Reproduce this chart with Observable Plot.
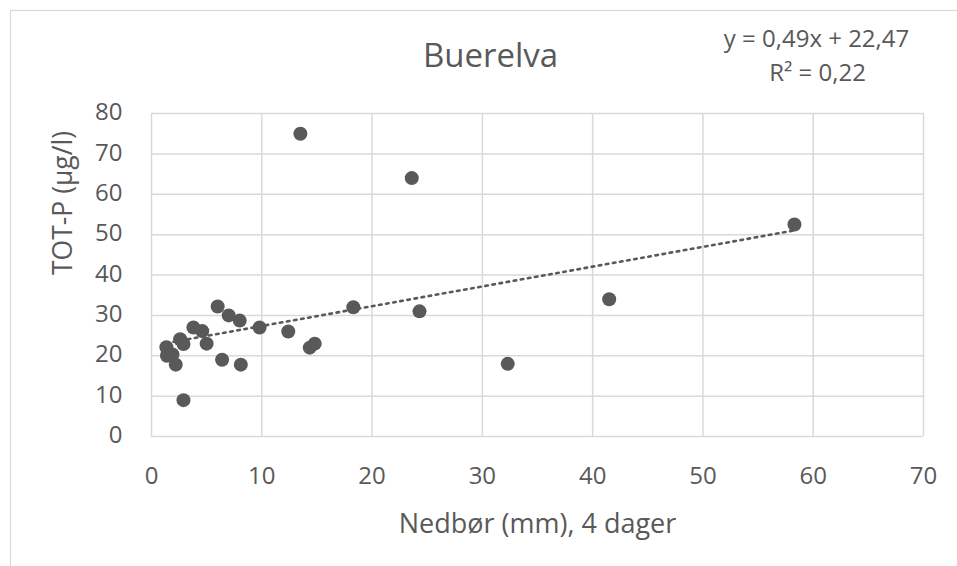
<!DOCTYPE html>
<html><head><meta charset="utf-8">
<script src="https://cdn.jsdelivr.net/npm/d3@7"></script>
<script src="https://cdn.jsdelivr.net/npm/@observablehq/plot@0.6"></script>
<style>body{margin:0;background:#fff;} svg{display:block;}</style>
</head><body><div id="chart"></div>
<script>
const title = "Buerelva";
const xLabel = "Nedbør (mm), 4 dager";
const yLabel = "TOT-P (µg/l)";
const eqLine1 = "y = 0,49x + 22,47";
const eqLine2 = "R² = 0,22";
const slope = 0.49;
const intercept = 22.47;
const xTicks = [0, 10, 20, 30, 40, 50, 60, 70];
const yTicks = [0, 10, 20, 30, 40, 50, 60, 70, 80];
const precip = [13.5, 23.6, 58.3, 41.5, 24.3, 18.3, 32.3, 14.35, 14.8, 12.4, 9.8, 8.0, 7.0, 6.0, 3.8, 4.6, 5.0, 2.6, 2.9, 1.35, 1.4, 1.9, 2.2, 6.4, 8.1, 2.9];
const totP   = [75, 64, 52.5, 34, 31, 32, 18, 22, 23, 26, 27, 28.7, 30, 32.2, 27, 26.1, 23, 24.1, 22.9, 22.1, 20, 20.3, 17.8, 19, 17.8, 9];

const data = precip.map((x, i) => ({x, y: totP[i]}));
const xMin = d3.min(precip), xMax = d3.max(precip);
const trend = [xMin, xMax].map(x => ({x, y: slope * x + intercept}));

const font = "'Open Sans', sans-serif";
const grey = "#595959";

const chart = Plot.plot({
  width: 957, height: 566,
  marginLeft: 151, marginRight: 34, marginTop: 113, marginBottom: 130,
  style: {fontFamily: font, fontSize: "24px", color: grey, background: "#fff"},
  x: {domain: [0, 70], ticks: xTicks, label: null},
  y: {domain: [0, 80], ticks: yTicks, label: null},
  marks: [
    Plot.gridX(xTicks, {stroke: "#d9d9d9", strokeOpacity: 1, strokeWidth: 1.5}),
    Plot.gridY(yTicks, {stroke: "#d9d9d9", strokeOpacity: 1, strokeWidth: 1.5}),
    Plot.axisX({ticks: xTicks, tickSize: 0, tickPadding: 30, fontSize: 24, fill: grey}),
    Plot.axisY({ticks: yTicks, tickSize: 0, tickPadding: 29, fontSize: 24, fill: grey, dy: -1}),
    Plot.line(trend, {x: "x", y: "y", stroke: grey, strokeWidth: 2.6, strokeDasharray: "2.6,4.6"}),
    Plot.dot(data, {x: "x", y: "y", r: 7, fill: grey, stroke: "none"}),
    Plot.text([title], {frameAnchor: "top", lineAnchor: "middle", dy: -57, dx: -47, fontSize: 33, fill: grey}),
    Plot.text([eqLine1], {frameAnchor: "top-right", lineAnchor: "middle", dy: -74, dx: -107, fontSize: 24, fill: grey, textAnchor: "middle"}),
    Plot.text([eqLine2], {frameAnchor: "top-right", lineAnchor: "middle", dy: -40, dx: -106, fontSize: 24, fill: grey, textAnchor: "middle"}),
    Plot.text([xLabel], {frameAnchor: "bottom", lineAnchor: "middle", dy: 88, fontSize: 27, fill: grey}),
    Plot.text([yLabel], {frameAnchor: "left", lineAnchor: "middle", dx: -88, rotate: -90, fontSize: 26.5, fill: grey})
  ]
});
d3.select(chart).append("rect")
  .attr("x", 10.5).attr("y", 10.5).attr("width", 960).attr("height", 570)
  .attr("fill", "none").attr("stroke", "#d9d9d9").attr("stroke-width", 1.2);
document.getElementById("chart").appendChild(chart);
</script></body></html>
